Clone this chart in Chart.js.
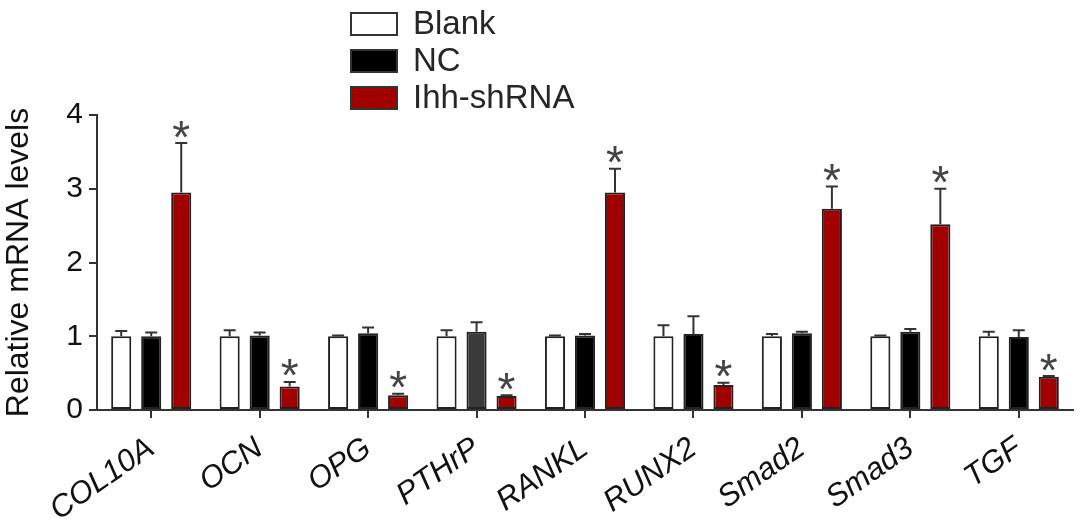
<!DOCTYPE html>
<html>
<head>
<meta charset="utf-8">
<script src="https://cdn.jsdelivr.net/npm/chart.js@4/dist/chart.umd.min.js"></script>
<style>
  html, body { margin: 0; padding: 0; background: #fff; }
  #wrap { width: 1087px; height: 524px; }
</style>
</head>
<body>
<div id="wrap"><canvas id="chart" width="1087" height="524"></canvas></div>
<script>
// values
const categories = ['COL10A', 'OCN', 'OPG', 'PTHrP', 'RANKL', 'RUNX2', 'Smad2', 'Smad3', 'TGF'];
const blank    = [1.00, 1.00, 1.00, 1.00, 1.00, 1.00, 1.00, 1.00, 1.00];
const blankErr = [0.07, 0.08, 0.01, 0.08, 0.01, 0.15, 0.03, 0.01, 0.06];
const nc       = [1.00, 1.01, 1.04, 1.06, 1.01, 1.03, 1.04, 1.06, 0.99];
const ncErr    = [0.05, 0.04, 0.08, 0.13, 0.02, 0.24, 0.02, 0.04, 0.09];
const ihh      = [2.95, 0.32, 0.20, 0.19, 2.95, 0.34, 2.73, 2.52, 0.45];
const ihhErr   = [0.67, 0.06, 0.02, 0.01, 0.32, 0.03, 0.30, 0.48, 0.01];
const ihhStar  = [true, true, true, true, true, true, true, true, true];
const yTicks   = [0, 1, 2, 3, 4];

const RED = '#a00000';
const INK = '#262626';
const FONT = '"Liberation Sans", Arial, sans-serif';

// NC bar for PTHrP is drawn dark grey in the figure
const ncColors = categories.map(c => c === 'PTHrP' ? '#3a3a3a' : '#000000');

const errorBars = {
  id: 'errorBars',
  afterDatasetsDraw(chart) {
    const ctx = chart.ctx;
    const y = chart.scales.y;
    ctx.save();
    ctx.strokeStyle = '#333';
    ctx.lineWidth = 2;
    chart.data.datasets.forEach((ds, di) => {
      const meta = chart.getDatasetMeta(di);
      meta.data.forEach((bar, i) => {
        const top = y.getPixelForValue(ds.data[i] + ds.err[i]);
        const half = 6;
        ctx.beginPath();
        ctx.moveTo(bar.x, bar.y);
        ctx.lineTo(bar.x, top);
        ctx.moveTo(bar.x - half, top);
        ctx.lineTo(bar.x + half, top);
        ctx.stroke();
        if (ds.star && ds.star[i]) {
          ctx.font = '46px ' + FONT;
          ctx.fillStyle = '#444';
          ctx.textAlign = 'center';
          ctx.textBaseline = 'alphabetic';
          const m = ctx.measureText('*');
          const cy = top - 14;
          ctx.fillText('*', bar.x, cy + (m.actualBoundingBoxAscent - m.actualBoundingBoxDescent) / 2);
        }
      });
    });
    ctx.restore();
  }
};

const boxLegend = {
  id: 'boxLegend',
  afterDraw(chart) {
    const ctx = chart.ctx;
    ctx.save();
    ctx.font = '33px ' + FONT;
    ctx.textBaseline = 'middle';
    ctx.textAlign = 'left';
    chart.data.datasets.forEach((ds, i) => {
      const cy = 24 + i * 37;
      ctx.fillStyle = Array.isArray(ds.backgroundColor) ? ds.backgroundColor[0] : ds.backgroundColor;
      ctx.fillRect(351, cy - 11, 46, 22);
      ctx.strokeStyle = '#333';
      ctx.lineWidth = 2;
      ctx.strokeRect(351, cy - 11, 46, 22);
      ctx.fillStyle = INK;
      ctx.fillText(ds.label, 413, cy + 1);
    });
    ctx.restore();
  }
};

new Chart(document.getElementById('chart'), {
  type: 'bar',
  data: {
    labels: categories,
    datasets: [
      { label: 'Blank', data: blank, err: blankErr, backgroundColor: '#ffffff' },
      { label: 'NC', data: nc, err: ncErr, backgroundColor: ncColors },
      { label: 'Ihh-shRNA', data: ihh, err: ihhErr, star: ihhStar, backgroundColor: RED }
    ].map(d => Object.assign(d, {
      borderColor: '#222',
      borderWidth: 2,
      borderSkipped: false,
      categoryPercentage: 0.83,
      barPercentage: 0.67
    }))
  },
  options: {
    responsive: false,
    animation: false,
    layout: { padding: { top: 115, right: 14, left: 0, bottom: 0 } },
    plugins: {
      legend: { display: false },
      tooltip: { enabled: false }
    },
    scales: {
      x: {
        afterFit(s) { s.height = 114; },
        grid: { display: true, drawOnChartArea: false, offset: false, drawTicks: true, tickLength: 8, color: '#333', lineWidth: 2 },
        border: { color: '#333', width: 2 },
        ticks: {
          autoSkip: false,
          minRotation: 35,
          maxRotation: 35,
          padding: 12,
          color: '#111',
          font: { family: FONT, size: 31, style: 'italic' }
        }
      },
      y: {
        min: 0,
        max: 4,
        afterFit(s) { s.width = 97; },
        afterBuildTicks(s) { s.ticks = yTicks.map(v => ({ value: v })); },
        grid: { display: true, drawOnChartArea: false, drawTicks: true, tickLength: 8, color: '#333', lineWidth: 2 },
        border: { color: '#333', width: 2 },
        ticks: {
          padding: 6,
          color: '#111',
          font: { family: FONT, size: 30 }
        },
        title: {
          display: true,
          text: 'Relative mRNA levels',
          color: '#111',
          padding: { top: 0, bottom: 0 },
          font: { family: FONT, size: 32 }
        }
      }
    }
  },
  plugins: [errorBars, boxLegend]
});
</script>
</body>
</html>
